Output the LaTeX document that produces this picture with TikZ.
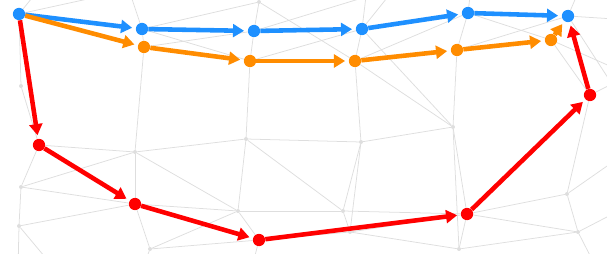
\documentclass[tikz,border=0pt]{standalone}
\usepackage{tikz}
\usetikzlibrary{arrows.meta, backgrounds}
\definecolor{routeBlue}{RGB}{30,144,255}
\definecolor{routeOrange}{RGB}{255,140,0}
\definecolor{routeRed}{RGB}{255,0,0}
\definecolor{meshGray}{RGB}{222,222,222}
\tikzset{
    meshNode/.style={circle, fill=meshGray, inner sep=0pt, minimum size=3.4pt},
    meshEdge/.style={draw=meshGray, line width=0.65pt},
    hopBlue/.style={circle, fill=routeBlue, inner sep=0pt, minimum size=10.5pt},
    hopOrange/.style={circle, fill=routeOrange, inner sep=0pt, minimum size=10.5pt},
    hopRed/.style={circle, fill=routeRed, inner sep=0pt, minimum size=10.5pt},
    routeEdge/.style={-{Triangle[length=9.5pt, width=11pt]}, line width=3.9pt, shorten >=3pt},
}
\newcommand{\drawHop}[3]{
    \draw[routeEdge, draw=#1] (#2) -- (#3);
}

\begin{document}
\begin{tikzpicture}[x=0.03cm, y=-0.03cm]
    \useasboundingbox (0,0) rectangle (607,254);

    % blue route
    \node[hopBlue] (B0) at (19,14) {};
    \node[hopBlue] (B1) at (142,29) {};
    \node[hopBlue] (B2) at (254,31) {};
    \node[hopBlue] (B3) at (362,29) {};
    \node[hopBlue] (B4) at (468,13) {};
    \node[hopBlue] (B5) at (568,16) {};

    % orange route
    \node[hopOrange] (O1) at (144,47) {};
    \node[hopOrange] (O2) at (250,61) {};
    \node[hopOrange] (O3) at (355,61) {};
    \node[hopOrange] (O4) at (457,50) {};
    \node[hopOrange] (O5) at (551,40) {};

    % red route
    \node[hopRed] (R1) at (39,145) {};
    \node[hopRed] (R2) at (135,204) {};
    \node[hopRed] (R3) at (259,240) {};
    \node[hopRed] (R4) at (467,214) {};
    \node[hopRed] (R5) at (590,95) {};

    % mesh in the background
    \begin{pgfonlayer}{background}
    \begin{scope}
        \clip (0,0) rectangle (607,254);
        \node[meshNode] (g1) at (21,86) {};
        \node[meshNode] (g2) at (135,152) {};
        \node[meshNode] (g3) at (21,187) {};
        \node[meshNode] (g4) at (19,226) {};
        \node[meshNode] (g5) at (246,139) {};
        \node[meshNode] (g6) at (361,142) {};
        \node[meshNode] (g7) at (453,127) {};
        \node[meshNode] (g8) at (238,211) {};
        \node[meshNode] (g9) at (343,211) {};
        \node[meshNode] (g10) at (150,249) {};
        \node[meshNode] (g11) at (350,232) {};
        \node[meshNode] (g12) at (567,194) {};
        \node[meshNode] (g13) at (578,232) {};
        \node[meshNode] (g14) at (459,249) {};
        \node[meshNode] (g15) at (259,2) {};
        \coordinate (x1) at (18,270);
        \coordinate (x2) at (129,-10);
        \coordinate (x3) at (40,-12);
        \coordinate (x4) at (367,-12);
        \coordinate (x5) at (471,-12);
        \coordinate (x6) at (580,-12);
        \coordinate (x7) at (630,150);
        \coordinate (x8) at (630,205);
        \coordinate (x9) at (630,75);
        \coordinate (x10) at (630,112);
        \coordinate (x11) at (140,275);
        \coordinate (x12) at (250,275);
        \coordinate (x13) at (60,275);
        \coordinate (x14) at (600,275);
        \coordinate (x15) at (395,-12);
        \coordinate (x16) at (630,20);

        \foreach \a/\b in {B0/g1, g1/R1, R1/g3, g3/g4, g4/x1, B0/x2, B0/x3,
            R1/g2, g3/g2, g3/R2, g4/R2, g2/R2, g2/O1, O1/B1, g2/g5, g2/g8,
            R2/g8, R2/g10, g10/g8, g10/R3, g10/x11, g4/x13, g8/R3, R3/x12,
            g5/O2, g5/g6, g5/g9, g5/g8, g8/g9, g9/g6, g6/g11, g6/O3,
            g6/g7, g9/g11, g9/R4, g11/g14, R3/g11, g11/R4,
            g7/O4, g7/R4, g7/g14, O3/g7, R4/g12, R4/g13, g12/R5, g12/g13,
            g12/x7, g13/x8, g14/g13, R4/g14, R5/x9, O5/R5, B5/x10, g13/x14,
            B1/g15, O1/B2, B1/O2, g15/B2, B2/O2, g15/O3, B1/x2,
            O2/B3, B3/x4, B3/O3, B3/g7, O3/B4, B4/x5, B4/O4, B4/O5,
            O4/B5, B5/x6, B2/x15, B3/x15, B5/x16, O5/x9}
            \draw[meshEdge] (\a) -- (\b);
    \end{scope}
    \end{pgfonlayer}

    % routes
    \drawHop{routeBlue}{B0}{B1}
    \drawHop{routeBlue}{B1}{B2}
    \drawHop{routeBlue}{B2}{B3}
    \drawHop{routeBlue}{B3}{B4}
    \drawHop{routeBlue}{B4}{B5}

    \drawHop{routeOrange}{B0}{O1}
    \drawHop{routeOrange}{O1}{O2}
    \drawHop{routeOrange}{O2}{O3}
    \drawHop{routeOrange}{O3}{O4}
    \drawHop{routeOrange}{O4}{O5}
    \drawHop{routeOrange}{O5}{B5}

    \drawHop{routeRed}{B0}{R1}
    \drawHop{routeRed}{R1}{R2}
    \drawHop{routeRed}{R2}{R3}
    \drawHop{routeRed}{R3}{R4}
    \drawHop{routeRed}{R4}{R5}
    \drawHop{routeRed}{R5}{B5}

\end{tikzpicture}
\end{document}
